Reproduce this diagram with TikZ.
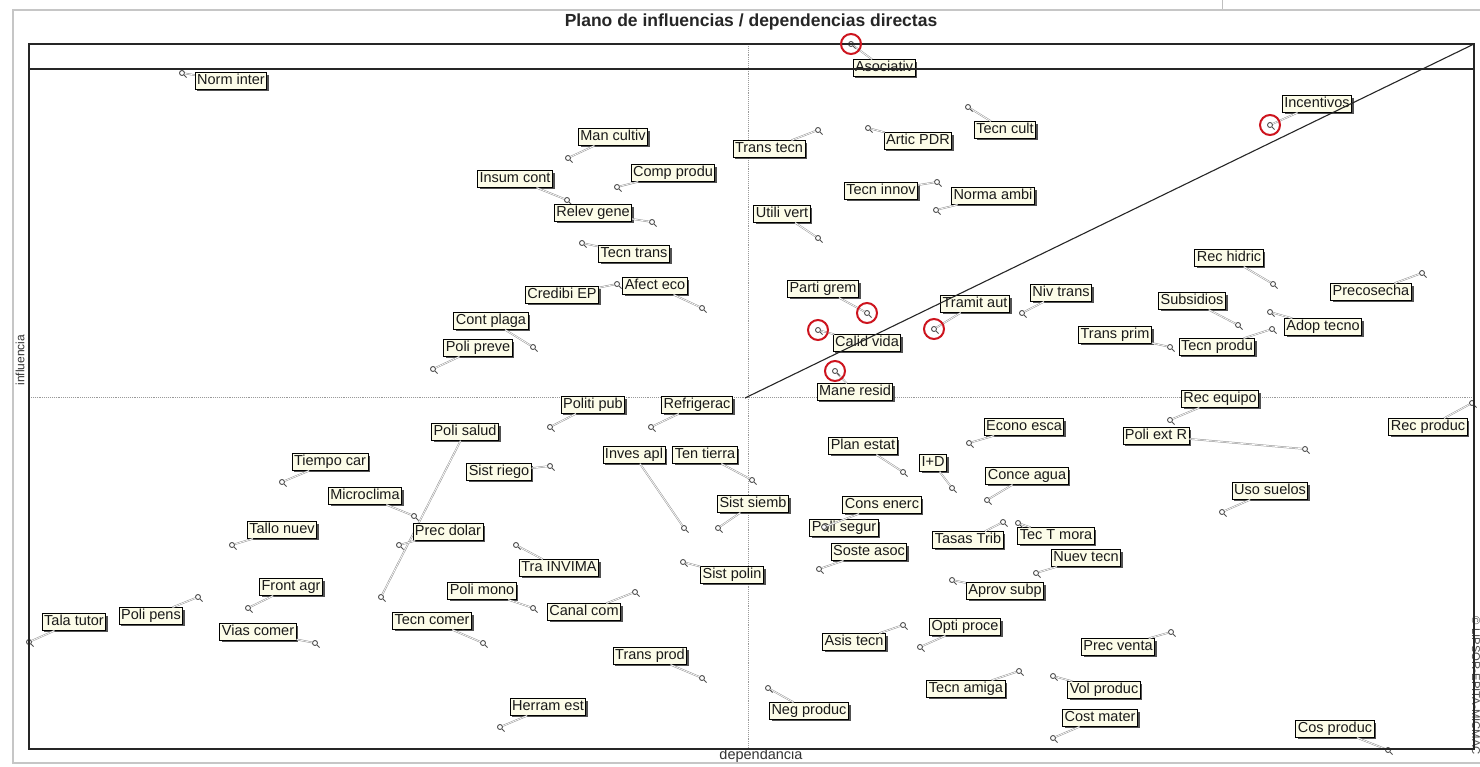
\documentclass[tikz,border=0pt]{standalone}
\usepackage{fontspec}
\setmainfont{Liberation Sans}
\usetikzlibrary{shadows}
\definecolor{labfill}{RGB}{252,252,232}
\definecolor{ptgray}{RGB}{80,80,80}
\definecolor{ringred}{RGB}{205,20,30}
\tikzstyle{varbox}=[draw=black, fill=labfill, line width=0.9pt,
                    inner xsep=2pt, inner ysep=1.5pt, text height=10.5pt,
                    text depth=3pt, text=black!90,
                    font=\fontsize{14.5}{16}\selectfont,
                    drop shadow={shadow xshift=2.2pt, shadow yshift=-2.2pt,
                    fill=black!75, opacity=.9}]
\tikzstyle{varpt} =[circle, draw=ptgray, line width=0.9pt, fill=white,
                    minimum size=5pt, inner sep=0pt]
\tikzstyle{leader}=[draw=gray!85, double=white, double distance=0.7pt,
                    line width=0.5pt]
\tikzstyle{axisline}=[gray!80, densely dotted, line width=0.9pt]
\tikzstyle{frameline}=[black!85, line width=1.1pt]
\tikzstyle{ring}  =[circle, draw=ringred, line width=2pt,
                    minimum size=20pt, inner sep=0pt]

\begin{document}
\begin{tikzpicture}[x=1pt, y=-1pt]
    \path[fill=white, use as bounding box] (0,0) rectangle (1480,766);
    % outer window border
    \draw[gray!45, line width=1.6pt] (1480,10) -- (13,10) -- (13,763) -- (1480,763);
    \draw[gray!50, line width=0.5pt] (1222,0) -- (1222,9);

    \node[font=\bfseries\fontsize{17.5}{20}\selectfont, text=black!85] (title) at (751,22)
        {Plano de influencias / dependencias directas};
    \node[rotate=90, font=\fontsize{12}{14}\selectfont, text=black!80] (ylab) at (20,360) {influencia};
    \node[font=\fontsize{14.5}{16}\selectfont, text=black!80] (xlab) at (761,756) {dependancia};
    \node[rotate=-90, font=\fontsize{11.3}{13}\selectfont, text=black!70] (copy) at (1476,686)
        {© LIPSOR-EPITA-MICMAC};

    % quadrant axes
    \draw[axisline] (748,44) -- (748,749);
    \draw[axisline] (29,397) -- (1472,397);

    \node[varbox] (poliseg) at (844,528) {Poli segur};
    \foreach \nm/\txt/\x/\y/\px/\py in {
        normint/Norm inter/231/81/182/73, mancult/Man cultiv/613/137/568/158,
        compprod/Comp produ/673/173/617/187, insum/Insum cont/515/179/567/200,
        relev/Relev gene/593/213/652/222, tecntrans/Tecn trans/634/254/582/243,
        afect/Afect eco/655/286/702/308, credibi/Credibi EP/562/295/617/284,
        contpl/Cont plaga/491/321/533/347, poliprev/Poli preve/478/348/433/369,
        politpub/Politi pub/593/405/550/427, refrig/Refrigerac/697/405/651/427,
        polisal/Poli salud/465/432/381/597, tiempo/Tiempo car/330/462/282/482,
        microcl/Microclima/365/496/414/516, sistrieg/Sist riego/499/472/550/466,
        invesapl/Inves apl/634/455/684/528, tentierra/Ten tierra/705/455/752/480,
        sistsiemb/Sist siemb/753/504/718/528, precdol/Prec dolar/448/532/399/545,
        tallo/Tallo nuev/282/530/232/545, frontagr/Front agr/291/587/248/608,
        polipens/Poli pens/151/616/198/597, tala/Tala tutor/74/622/29/642,
        vias/Vias comer/258/632/315/643, trainv/Tra INVIMA/559/568/516/545,
        polimono/Poli mono/482/591/533/608, canal/Canal com/584/612/635/592,
        tecncom/Tecn comer/432/621/483/643, transprod/Trans prod/650/656/702/678,
        herram/Herram est/548/707/500/727, sistpol/Sist polin/732/575/683/562,
        asoc/Asociativ/884/68/851/44, transtecn/Trans tecn/769/149/818/130,
        artic/Artic PDR/918/141/868/128, tecncult/Tecn cult/1005/130/968/107,
        tecninn/Tecn innov/881/191/937/182, normamb/Norma ambi/993/196/936/210,
        utili/Utili vert/782/214/818/238, incent/Incentivos/1317/104/1270/125,
        partigrem/Parti grem/823/289/867/313, calid/Calid vida/867/343/818/330,
        tramit/Tramit aut/975/304/934/329, mane/Mane resid/855/392/835/371,
        nivtrans/Niv trans/1061/293/1022/313, transprim/Trans prim/1115/335/1170/347,
        tecnprodu/Tecn produ/1217/347/1272/329, adop/Adop tecno/1323/327/1270/312,
        subs/Subsidios/1192/301/1238/325, rechid/Rec hidric/1229/258/1273/284,
        precos/Precosecha/1371/292/1422/273, recequ/Rec equipo/1220/399/1170/420,
        poliext/Poli ext R/1156/436/1305/449, recprod/Rec produc/1428/427/1472/403,
        uso/Uso suelos/1270/491/1222/512, econo/Econo esca/1024/427/969/443,
        planest/Plan estat/863/446/903/472, imasd/I+D/933/463/952/488,
        conce/Conce agua/1027/476/987/500, consen/Cons enerc/882/505/824/527,
        tasas/Tasas Trib/968/540/1003/522, tecT/Tec T mora/1056/536/1018/523,
        soste/Soste asoc/869/552/819/569, nuev/Nuev tecn/1086/558/1036/573,
        aprov/Aprov subp/1005/591/952/580, opti/Opti proce/965/627/920/647,
        asis/Asis tecn/854/642/903/625, precv/Prec venta/1118/647/1171/632,
        tecnam/Tecn amiga/966/689/1019/671, volprod/Vol produc/1104/690/1053/676,
        costmat/Cost mater/1100/718/1053/738, negprod/Neg produc/809/711/768/688,
        cosprod/Cos produc/1335/729/1388/750}{
        \node[varbox] (\nm) at (\x,\y) {\txt};
        \node[varpt] (p\nm) at (\px,\py) {};
        \draw[leader] (p\nm) -- (\nm);
        \draw[ptgray, line width=0.9pt] (p\nm.south east) -- ++(2.5,2.5);
    }

    % plot frame and diagonal
    \draw[frameline] (29,44) rectangle (1474,749);
    \draw[frameline] (29,69) -- (1474,69);
    \coordinate (orig) at (745,398);
    \coordinate (corner) at (1474,44);
    \draw[frameline] (orig) -- (corner);

    % highlighted variables
    \foreach \i/\rx/\ry in {1/851/44, 2/1270/125, 3/867/313, 4/818/330, 5/934/329, 6/835/371}
        \node[ring] (ring\i) at (\rx,\ry) {};
\end{tikzpicture}
\end{document}
